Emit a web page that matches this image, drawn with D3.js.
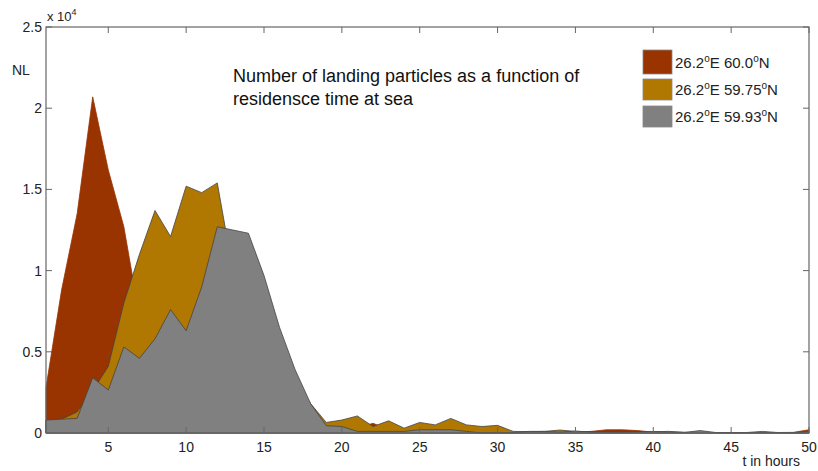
<!DOCTYPE html>
<html>
<head>
<meta charset="utf-8">
<script src="https://cdn.jsdelivr.net/npm/d3@7"></script>
<style>
  body { margin: 0; background: #fff; }
  svg { display: block; font-family: "Liberation Sans", Arial, sans-serif; }
</style>
</head>
<body>
<div id="chart"></div>
<script>
// hours 1..50
const hours = d3.range(1, 51);

// landing particles (x 10^4)
const lat600 = [0.28, 0.88, 1.35, 2.07, 1.62, 1.27, 0.72, 0.32, 0.15, 0.08,
  0.05, 0.04, 0.03, 0.03, 0.02, 0.02, 0.02, 0.02, 0.02, 0.02,
  0.03, 0.06, 0.02, 0.01, 0.01, 0.01, 0.01, 0.01, 0.01, 0.01,
  0.005, 0.005, 0.005, 0.005, 0.005, 0.01, 0.02, 0.02, 0.015, 0.005,
  0.005, 0.004, 0.004, 0.003, 0.003, 0.003, 0.003, 0.003, 0.004, 0.02];

const lat5975 = [0.08, 0.085, 0.13, 0.26, 0.41, 0.8, 1.1, 1.37, 1.21, 1.52,
  1.48, 1.54, 1.0, 0.85, 0.65, 0.45, 0.32, 0.18, 0.065, 0.08,
  0.105, 0.04, 0.075, 0.03, 0.065, 0.05, 0.09, 0.05, 0.04, 0.047,
  0.01, 0.008, 0.01, 0.018, 0.01, 0.008, 0.006, 0.005, 0.005, 0.008,
  0.01, 0.004, 0.003, 0.002, 0.002, 0.003, 0.01, 0.003, 0.002, 0.003];

const lat5993 = [0.08, 0.085, 0.09, 0.34, 0.265, 0.53, 0.46, 0.58, 0.76, 0.63,
  0.9, 1.27, 1.25, 1.23, 0.97, 0.65, 0.39, 0.18, 0.045, 0.04,
  0.01, 0.01, 0.01, 0.01, 0.02, 0.02, 0.02, 0.01, 0.0, 0.0,
  0.0, 0.01, 0.01, 0.005, 0.012, 0.005, 0.003, 0.003, 0.005, 0.008,
  0.005, 0.003, 0.015, 0.003, 0.002, 0.002, 0.003, 0.002, 0.002, 0.002];

const seriesNames = ["60.0", "59.75", "59.93"];
const seriesColors = ["#993300", "#b07800", "#808080"];
const xTicks = [5, 10, 15, 20, 25, 30, 35, 40, 45, 50];
const yTicks = [0, 0.5, 1, 1.5, 2, 2.5];

const width = 818, height = 471;
const margin = { top: 27, right: 9, bottom: 38, left: 46 };

const svg = d3.select("#chart").append("svg")
  .attr("width", width)
  .attr("height", height);

const x = d3.scaleLinear().domain([1, 50]).range([margin.left, width - margin.right]);
const y = d3.scaleLinear().domain([0, 2.5]).range([height - margin.bottom, margin.top]);

const series = [lat600, lat5975, lat5993];

const area = d3.area()
  .x((d, i) => x(hours[i]))
  .y0(y(0))
  .y1(d => y(d));

// areas, back to front
svg.selectAll(".area")
  .data(series)
  .enter()
  .append("path")
  .attr("class", "area")
  .attr("d", area)
  .attr("fill", (d, i) => seriesColors[i])
  .attr("stroke", (d, i) => i === 0 ? seriesColors[0] : "#444")
  .attr("stroke-width", 0.8)
  .attr("stroke-linejoin", "round");

// frame
const axisColor = "#666";
svg.append("rect")
  .attr("x", x(1))
  .attr("y", y(2.5))
  .attr("width", x(50) - x(1))
  .attr("height", y(0) - y(2.5))
  .attr("fill", "none")
  .attr("stroke", axisColor)
  .attr("stroke-width", 1.2);

const tickLen = 6;

// x ticks, bottom and top, inward
const xAxis = svg.append("g");
xTicks.forEach(t => {
  xAxis.append("line")
    .attr("x1", x(t)).attr("x2", x(t))
    .attr("y1", y(0)).attr("y2", y(0) - tickLen)
    .attr("stroke", axisColor);
  xAxis.append("line")
    .attr("x1", x(t)).attr("x2", x(t))
    .attr("y1", y(2.5)).attr("y2", y(2.5) + tickLen)
    .attr("stroke", axisColor);
  xAxis.append("text")
    .attr("x", x(t))
    .attr("y", y(0) + 19)
    .attr("text-anchor", "middle")
    .attr("font-size", 14)
    .attr("fill", "#222")
    .text(t);
});

// y ticks, left and right, inward
const yAxis = svg.append("g");
yTicks.forEach(t => {
  yAxis.append("line")
    .attr("x1", x(1)).attr("x2", x(1) + tickLen)
    .attr("y1", y(t)).attr("y2", y(t))
    .attr("stroke", axisColor);
  yAxis.append("line")
    .attr("x1", x(50)).attr("x2", x(50) - tickLen)
    .attr("y1", y(t)).attr("y2", y(t))
    .attr("stroke", axisColor);
  yAxis.append("text")
    .attr("x", x(1) - 4)
    .attr("y", y(t) + 5)
    .attr("text-anchor", "end")
    .attr("font-size", 14)
    .attr("fill", "#222")
    .text(t);
});

// exponent label
const expo = svg.append("text")
  .attr("x", x(1) + 1)
  .attr("y", 21)
  .attr("font-size", 13)
  .attr("fill", "#222");
expo.append("tspan").text("x 10");
expo.append("tspan").attr("font-size", 9).attr("dy", -6).text("4");

svg.append("text")
  .attr("x", 12)
  .attr("y", 75)
  .attr("font-size", 14)
  .attr("fill", "#222")
  .text("NL");

svg.append("text")
  .attr("x", 800)
  .attr("y", 466)
  .attr("text-anchor", "end")
  .attr("font-size", 14)
  .attr("fill", "#222")
  .text("t in hours");

// title
const title = svg.append("text")
  .attr("x", 233)
  .attr("y", 82)
  .attr("font-size", 18)
  .attr("fill", "#111");
title.append("tspan").attr("x", 233).text("Number of landing particles as a function of");
title.append("tspan").attr("x", 233).attr("dy", 23).text("residensce time at sea");

// legend
const legend = svg.append("g").attr("transform", "translate(643, 50)");
seriesNames.forEach((name, i) => {
  const g = legend.append("g").attr("transform", `translate(0, ${i * 27})`);
  g.append("rect")
    .attr("width", 29)
    .attr("height", i === 0 ? 24 : 21)
    .attr("y", i === 0 ? 0 : 2)
    .attr("fill", seriesColors[i])
    .attr("stroke", "#888")
    .attr("stroke-width", 0.8);
  const t = g.append("text")
    .attr("x", 32)
    .attr("y", 18)
    .attr("font-size", 15)
    .attr("fill", "#222");
  t.append("tspan").text("26.2");
  t.append("tspan").attr("font-size", 10).attr("dy", -6).text("o");
  t.append("tspan").attr("dy", 6).text("E " + name);
  t.append("tspan").attr("font-size", 10).attr("dy", -6).text("o");
  t.append("tspan").attr("dy", 6).text("N");
});
</script>
</body>
</html>
